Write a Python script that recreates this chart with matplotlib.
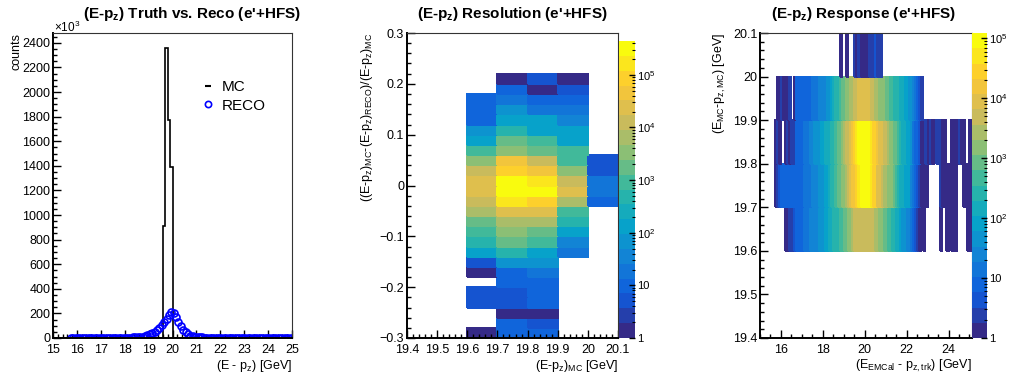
import numpy as np
import matplotlib
matplotlib.use('Agg')
import matplotlib.pyplot as plt
from matplotlib.colors import LinearSegmentedColormap, LogNorm
from matplotlib.ticker import MultipleLocator, FuncFormatter, FixedLocator, NullFormatter
from matplotlib.lines import Line2D

plt.rcParams['font.family'] = ['Liberation Sans', 'DejaVu Sans']
plt.rcParams['mathtext.default'] = 'regular'

# ---- panel 1 : E-pz truth vs reco (counts in units of 10^3)
mc_edges = [15.0, 19.6, 19.7, 19.8, 19.9, 20.0, 25.0]
mc_counts = [0, 914, 2357, 1774, 1394, 0]

reco_centers = np.round(np.arange(15.75, 25.0, 0.1), 2)
reco_counts = [0.4, 0.5, 0.5, 0.6, 0.6, 0.7, 0.7, 0.8, 0.8, 0.9,
               1.0, 1.0, 1.1, 1.2, 1.3, 1.4, 1.5, 1.7, 1.9, 2.1,
               2.3, 2.6, 2.9, 3.2, 3.6, 4.0, 4.5, 5.0, 5.8, 7.0,
               10, 15, 22, 30, 38, 48, 62, 82, 105, 128,
               158, 190, 210, 205, 170, 130, 95, 66, 45, 30,
               20, 14, 10, 8, 6, 5, 4, 3.5, 3, 2.7,
               2.4, 2.2, 2.0, 1.8, 1.6, 1.5, 1.4, 1.3, 1.2, 1.1,
               1.0, 0.9, 0.9, 0.8, 0.8, 0.7, 0.7, 0.6, 0.6, 0.6,
               0.5, 0.5, 0.5, 0.4, 0.4, 0.4, 0.4, 0.3, 0.3, 0.3,
               0.3, 0.3, 0.3]

# ---- panel 2 : resolution, columns listed top (0.22) -> bottom (-0.30)
res_x_edges = [19.6, 19.7, 19.8, 19.9, 20.0, 20.1]
res_y_edges = np.round(np.arange(-0.30, 0.2201, 0.02), 2)
res_col_196 = [0, 0, 10, 12, 12, 90, 110, 920, 3400, 12000, 24000, 24000, 12000,
               6500, 1800, 700, 480, 130, 5, 1.4, 0, 5, 5, 0, 0, 1.4]
res_col_197 = [1.4, 10, 25, 50, 180, 480, 1300, 3400, 35000, 87000, 320000, 320000, 170000,
               24000, 6500, 2500, 1300, 480, 69, 10, 8, 5, 5, 1.4, 9, 8]
res_col_198 = [5, 1.4, 10, 25, 120, 180, 700, 1800, 12000, 45000, 170000, 250000, 87000,
               24000, 5000, 1800, 800, 180, 50, 19, 10, 9, 9, 1.4, 5, 8]
res_col_199 = [1.4, 5, 8, 17, 45, 120, 160, 800, 1200, 3400, 12000, 24000, 6500,
               1000, 500, 160, 45, 19, 0, 0, 0, 0, 0, 0, 0, 0]
res_col_200 = [0, 0, 0, 0, 0, 0, 0, 0, 5, 5, 17, 17, 8,
               0, 0, 0, 0, 0, 0, 0, 0, 0, 0, 0, 0, 0]

# ---- panel 3 : response, one row per E_MC-pz,MC bin, x bins of 0.1 from 15.0 to 25.1
resp_y_edges = [19.6, 19.7, 19.8, 19.9, 20.0, 20.1]
resp_x_edges = np.round(np.linspace(15.0, 25.1, 102), 2)
resp_196 = [0, 0, 0, 0, 0, 0, 0, 0, 0, 0,
            0, 0, 1, 1, 2, 2, 5, 6, 7, 8,
            9, 12, 14, 17, 20, 24, 28, 33, 40, 48,
            55, 65, 80, 110, 150, 200, 260, 340, 450, 600,
            800, 1100, 1500, 2000, 2800, 3700, 4200, 4800, 5300, 5800,
            6000, 6000, 5500, 5000, 4200, 3600, 2800, 2000, 1500, 1100,
            800, 550, 400, 300, 220, 160, 110, 80, 60, 45,
            30, 20, 12, 8, 4, 2, 1, 0, 1, 0,
            0, 0, 0, 0, 0, 0, 1, 0, 0, 1,
            0, 1, 1, 1, 0, 0, 0, 0, 0, 1,
            1]
resp_197 = [0, 0, 0, 0, 0, 0, 0, 1, 2, 5,
            6, 6, 7, 7, 7, 8, 8, 8, 9, 9,
            10, 12, 14, 16, 18, 22, 26, 32, 38, 45,
            55, 70, 100, 140, 200, 280, 400, 700, 1100, 1500,
            2000, 3000, 4500, 7000, 12000, 18000, 28000, 50000, 80000, 100000,
            100000, 90000, 75000, 40000, 30000, 25000, 10000, 8000, 6000, 3500,
            2500, 2000, 1500, 1200, 700, 450, 300, 180, 130, 100,
            75, 62, 30, 15, 8, 5, 3, 1, 1, 1,
            0, 0, 0, 0, 0, 0, 2, 1, 0, 1,
            1, 0, 1, 1, 0, 0, 0, 1, 1, 0,
            1]
resp_198 = [0, 0, 0, 0, 0, 0, 0, 1, 2, 1,
            0, 0, 1, 2, 1, 2, 0, 6, 7, 8,
            9, 11, 14, 18, 22, 28, 34, 42, 55, 70,
            90, 110, 140, 170, 200, 300, 450, 700, 1000, 1500,
            2500, 4000, 6000, 10000, 18000, 28000, 45000, 75000, 95000, 110000,
            110000, 95000, 80000, 45000, 35000, 25000, 18000, 10000, 7000, 5000,
            4000, 2800, 2000, 1500, 1100, 700, 450, 300, 180, 120,
            90, 70, 35, 18, 10, 6, 4, 1, 1, 2,
            1, 2, 1, 0, 2, 2, 0, 1, 1, 0,
            0, 1, 1, 0, 1, 2, 1, 1, 0, 0,
            1]
resp_199 = [0, 0, 0, 0, 0, 0, 0, 0, 1, 1,
            2, 1, 0, 1, 2, 0, 1, 6, 6, 7,
            7, 8, 8, 9, 10, 11, 14, 17, 20, 24,
            28, 33, 45, 60, 80, 120, 200, 300, 500, 700,
            900, 1200, 1600, 2100, 2800, 3700, 5000, 7000, 9000, 10000,
            10000, 9000, 7000, 5000, 4000, 3200, 2600, 2000, 1600, 1300,
            1100, 800, 600, 450, 350, 250, 200, 150, 120, 100,
            80, 60, 35, 20, 12, 7, 4, 2, 0, 0] + [0] * 21
resp_200 = [0] * 38 + [1, 0, 0, 1, 0, 0, 0, 3, 1, 2,
                       1, 1, 1, 1, 2, 3, 3, 4, 3, 3] + [0] * 43

# ROOT kBird palette
bird = [(0.2082, 0.1664, 0.5293), (0.0592, 0.3599, 0.8684), (0.0780, 0.5041, 0.8385),
        (0.0232, 0.6419, 0.7914), (0.1802, 0.7178, 0.6425), (0.5301, 0.7492, 0.4662),
        (0.8186, 0.7328, 0.3499), (0.9956, 0.7862, 0.1968), (0.9764, 0.9832, 0.0539)]
cmap = LinearSegmentedColormap.from_list('bird', bird, N=20)

W, H = 1009, 381
fig = plt.figure(figsize=(W / 100, H / 100), dpi=100)


def rect(x0, y0, x1, y1):
    return [x0 / W, 1 - y1 / H, (x1 - x0) / W, (y1 - y0) / H]


def ftext(x, y, s, **kw):
    fig.text(x / W, 1 - y / H, s, **kw)


def root_style(ax):
    for s in ['top', 'right']:
        ax.spines[s].set_linewidth(0.8)
        ax.spines[s].set_color('#333333')
    for s in ['left', 'bottom']:
        ax.spines[s].set_linewidth(1.4)
    ax.tick_params(which='both', direction='in', top=False, right=False, labelsize=9)
    ax.tick_params(which='major', length=5.5, width=1)
    ax.tick_params(which='minor', length=2.8, width=1)
    ax.tick_params(axis='x', pad=4)
    ax.tick_params(axis='y', pad=2)


def gfmt(v, pos):
    v = round(v, 6)
    if abs(v) < 1e-9:
        return '0'
    return f'{v:g}'.replace('-', '\u2212')


def root_cbar(mesh, cax, vmax):
    cb = fig.colorbar(mesh, cax=cax)
    cb.outline.set_visible(False)
    decades = [d for d in [1, 10, 100, 1e3, 1e4, 1e5] if d <= vmax]
    labels = ['1', '10', '10$^{2}$', '10$^{3}$', '10$^{4}$', '10$^{5}$'][:len(decades)]
    cax.yaxis.set_major_locator(FixedLocator(decades))
    cax.yaxis.set_major_formatter(FuncFormatter(lambda v, p: labels[decades.index(v)] if v in decades else ''))
    minors = [m * d for d in decades for m in range(2, 10) if m * d <= vmax]
    cax.yaxis.set_minor_locator(FixedLocator(minors))
    cax.yaxis.set_minor_formatter(NullFormatter())
    cax.tick_params(which='both', direction='in', right=True, left=False, labelsize=8, pad=1.5)
    cax.tick_params(which='major', length=4, width=1)
    cax.tick_params(which='minor', length=2.5, width=0.8)


# ================= panel 1
ax1 = fig.add_axes(rect(53, 33, 292, 338))
ax1.stairs(mc_counts, mc_edges, color='black', lw=1.2)
ax1.plot(reco_centers, reco_counts, ls='none', marker='o', ms=5, mfc='none', mec='blue', mew=1.2)
ax1.set_xlim(15, 25)
ax1.set_ylim(0, 2480)
ax1.xaxis.set_major_locator(MultipleLocator(1))
ax1.xaxis.set_minor_locator(MultipleLocator(0.2))
ax1.yaxis.set_major_locator(MultipleLocator(200))
ax1.yaxis.set_minor_locator(MultipleLocator(50))
ax1.xaxis.set_major_formatter(FuncFormatter(gfmt))
root_style(ax1)
handles = [Line2D([], [], color='black', marker='_', ls='none', ms=5, mew=1.5),
           Line2D([], [], color='blue', marker='o', ls='none', ms=4.5, mfc='none', mew=1.2)]
ax1.legend(handles, ['MC', 'RECO'], loc='upper left', bbox_to_anchor=((203 - 53) / 239, (338 - 80) / 305),
           frameon=False, fontsize=11, handlelength=0.7, handletextpad=0.5, labelspacing=0.3,
           borderpad=0, borderaxespad=0)

ftext(192, 14, "(E-p$_{z}$) Truth vs. Reco (e'+HFS)", ha='center', va='center', fontsize=11, fontweight='bold')
ftext(54, 27, '\u00d710$^{3}$', ha='left', va='center', fontsize=8.5)
ftext(17, 33, 'counts', rotation=90, ha='center', va='top', fontsize=9)
ftext(292, 366, '(E - p$_{z}$) [GeV]', ha='right', va='center', fontsize=9)

# ================= panel 2
ax2 = fig.add_axes(rect(407, 33, 618, 338))
res_z = np.array([res_col_196, res_col_197, res_col_198, res_col_199, res_col_200], dtype=float).T[::-1]
vmax2 = 4.4e5
norm2 = LogNorm(vmin=1, vmax=vmax2)
m2 = ax2.pcolormesh(res_x_edges, res_y_edges, np.ma.masked_less_equal(res_z, 0), cmap=cmap, norm=norm2,
                    edgecolors='face', linewidth=0.3)
ax2.set_xlim(19.4, 20.1)
ax2.set_ylim(-0.3, 0.3)
ax2.xaxis.set_major_locator(MultipleLocator(0.1))
ax2.xaxis.set_minor_locator(MultipleLocator(0.02))
ax2.yaxis.set_major_locator(MultipleLocator(0.1))
ax2.yaxis.set_minor_locator(MultipleLocator(0.02))
ax2.xaxis.set_major_formatter(FuncFormatter(gfmt))
ax2.yaxis.set_major_formatter(FuncFormatter(gfmt))
root_style(ax2)
cax2 = fig.add_axes(rect(619, 41, 635, 338))
root_cbar(m2, cax2, vmax2)

ftext(512, 14, '(E-p$_{z}$) Resolution (e\'+HFS)', ha='center', va='center', fontsize=11, fontweight='bold')
ftext(367, 33, '((E-p$_{z}$)$_{MC}$-(E-p$_{z}$)$_{RECO}$)/(E-p$_{z}$)$_{MC}$', rotation=90,
      ha='center', va='top', fontsize=9)
ftext(618, 366, '(E-p$_{z}$)$_{MC}$ [GeV]', ha='right', va='center', fontsize=9)

# ================= panel 3
ax3 = fig.add_axes(rect(760, 33, 972, 338))
resp_z = np.array([resp_196, resp_197, resp_198, resp_199, resp_200], dtype=float)
vmax3 = 1.23e5
norm3 = LogNorm(vmin=1, vmax=vmax3)
m3 = ax3.pcolormesh(resp_x_edges, resp_y_edges, np.ma.masked_less_equal(resp_z, 0), cmap=cmap, norm=norm3,
                    edgecolors='face', linewidth=0.2)
ax3.set_xlim(15, 25.12)
ax3.set_ylim(19.4, 20.1)
ax3.xaxis.set_major_locator(MultipleLocator(2))
ax3.xaxis.set_minor_locator(MultipleLocator(0.5))
ax3.yaxis.set_major_locator(MultipleLocator(0.1))
ax3.yaxis.set_minor_locator(MultipleLocator(0.02))
ax3.xaxis.set_major_formatter(FuncFormatter(gfmt))
ax3.yaxis.set_major_formatter(FuncFormatter(gfmt))
root_style(ax3)
cax3 = fig.add_axes(rect(972, 33, 987, 338))
root_cbar(m3, cax3, vmax3)

ftext(863, 14, '(E-p$_{z}$) Response (e\'+HFS)', ha='center', va='center', fontsize=11, fontweight='bold')
ftext(720, 33, '(E$_{MC}$-p$_{z,MC}$) [GeV]', rotation=90, ha='center', va='top', fontsize=9)
ftext(972, 366, '(E$_{EMCal}$ - p$_{z,trk}$) [GeV]', ha='right', va='center', fontsize=9)

fig.savefig('out.png', dpi=100)
